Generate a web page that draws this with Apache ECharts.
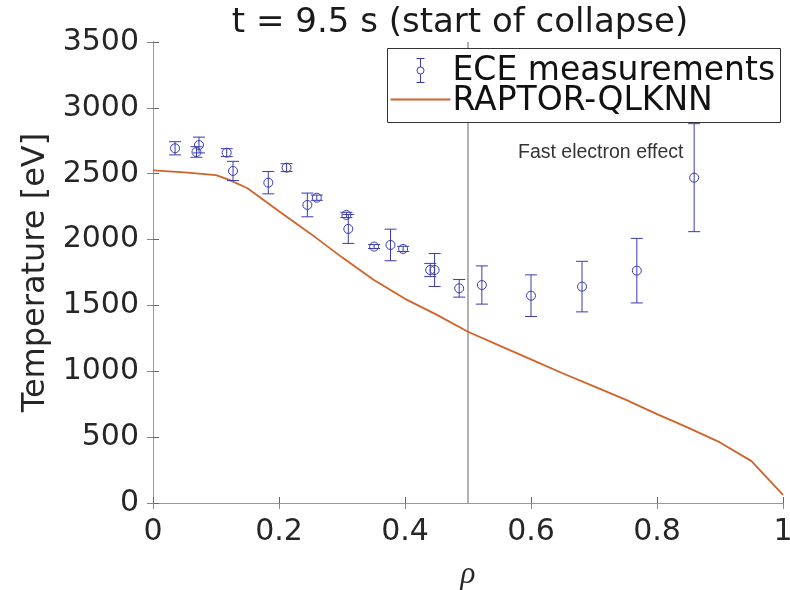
<!DOCTYPE html>
<html>
<head>
<meta charset="utf-8">
<script src="https://cdn.jsdelivr.net/npm/echarts@6/dist/echarts.min.js"></script>
<style>html,body{margin:0;padding:0;background:#fff;}#chart{width:790px;height:590px;}</style>
</head>
<body>
<div id="chart"></div>
<script>
// ECE measurements
var eceRho = [0.035, 0.069, 0.073, 0.117, 0.127, 0.183, 0.212, 0.245, 0.260, 0.307, 0.310, 0.351, 0.377, 0.397, 0.440, 0.447, 0.486, 0.522, 0.600, 0.681, 0.768, 0.859];
var eceT   = [2693, 2665, 2718, 2660, 2521, 2432, 2546, 2263, 2318, 2187, 2081, 1947, 1959, 1929, 1769, 1769, 1630, 1655, 1574, 1643, 1764, 2470];
var eceErr = [50, 40, 60, 30, 73, 85, 30, 90, 20, 20, 110, 15, 120, 20, 50, 125, 67, 145, 158, 192, 245, 410];
// RAPTOR-QLKNN profile
var raptorRho = [0, 0.05, 0.1, 0.12, 0.15, 0.2, 0.25, 0.3, 0.35, 0.4, 0.45, 0.5, 0.55, 0.6, 0.65, 0.7, 0.75, 0.8, 0.85, 0.9, 0.95, 1.0];
var raptorT   = [2525, 2510, 2490, 2455, 2390, 2215, 2045, 1865, 1695, 1550, 1430, 1300, 1195, 1090, 985, 885, 785, 675, 570, 460, 318, 62];
var xTicks = [0, 0.2, 0.4, 0.6, 0.8, 1];
var yTicks = [0, 500, 1000, 1500, 2000, 2500, 3000, 3500];
var markerRho = 0.5;
var markerT = [0, 3500];

var titleText = 't = 9.5 s (start of collapse)';
var legendNames = ['ECE measurements', 'RAPTOR-QLKNN'];
var annotation = 'Fast electron effect';

var ECE_COLOR = '#3a3ab0';
var LINE_COLOR = '#d0622a';
var FONT = 'DejaVu Sans';

var eceData = eceRho.map(function (r, i) { return [r, eceT[i], eceErr[i]]; });
var lineData = raptorRho.map(function (r, i) { return [r, raptorT[i]]; });
var markerData = markerT.map(function (t) { return [markerRho, t]; });

var chart = echarts.init(document.getElementById('chart'), null, {renderer: 'canvas'});

function renderErr(params, api) {
  var x = api.value(0), y = api.value(1), e = api.value(2);
  var c = api.coord([x, y]);
  var top = api.coord([x, y + e]);
  var bot = api.coord([x, y - e]);
  var cap = 6;
  var st = {stroke: ECE_COLOR, lineWidth: 1, fill: null};
  return {
    type: 'group',
    children: [
      {type: 'line', shape: {x1: c[0], y1: top[1], x2: c[0], y2: bot[1]}, style: st},
      {type: 'line', shape: {x1: c[0] - cap, y1: top[1], x2: c[0] + cap, y2: top[1]}, style: st},
      {type: 'line', shape: {x1: c[0] - cap, y1: bot[1], x2: c[0] + cap, y2: bot[1]}, style: st},
      {type: 'circle', shape: {cx: c[0], cy: c[1], r: 4.5}, style: {stroke: ECE_COLOR, lineWidth: 1, fill: 'rgba(255,255,255,0)'}}
    ]
  };
}

var labelStyle = {fontFamily: FONT, fontSize: 30, color: '#262626'};
function plain(v) { return String(+v.toFixed(1)); }

var option = {
  backgroundColor: '#ffffff',
  animation: false,
  title: {
    text: titleText,
    left: 455, top: 1, textAlign: 'center',
    textStyle: {fontFamily: FONT, fontSize: 34, fontWeight: 'normal', color: '#1a1a1a'}
  },
  grid: {left: 153, right: 7, top: 42, bottom: 87, containLabel: false, outerBoundsMode: 'none'},
  xAxis: [
    {
      type: 'value', min: xTicks[0], max: xTicks[xTicks.length - 1], interval: 0.2, position: 'bottom',
      axisLine: {show: true, lineStyle: {color: '#555', width: 1}},
      axisTick: {show: true, inside: true, length: 6, lineStyle: {color: '#666'}},
      axisLabel: Object.assign({margin: 14, formatter: plain}, labelStyle),
      splitLine: {show: false},
      name: 'ρ', nameLocation: 'middle', nameGap: 56,
      nameTextStyle: {fontFamily: 'Liberation Serif', fontStyle: 'italic', fontSize: 31, color: '#262626'}
    },
    {
      type: 'value', min: xTicks[0], max: xTicks[xTicks.length - 1], interval: 0.2, position: 'top',
      axisLine: {show: true, lineStyle: {color: '#999', width: 1}},
      axisTick: {show: true, inside: true, length: 6, lineStyle: {color: '#888'}},
      axisLabel: {show: false}, splitLine: {show: false}
    }
  ],
  yAxis: [
    {
      type: 'value', min: yTicks[0], max: yTicks[yTicks.length - 1], interval: 500, position: 'left',
      axisLine: {show: true, lineStyle: {color: '#555', width: 1}},
      axisTick: {show: true, inside: true, length: 6, lineStyle: {color: '#666'}},
      axisLabel: Object.assign({margin: 14, formatter: plain}, labelStyle),
      splitLine: {show: false},
      name: 'Temperature [eV]', nameLocation: 'middle', nameGap: 94, nameRotate: 90,
      nameTextStyle: {fontFamily: FONT, fontSize: 32, color: '#262626'}
    },
    {
      type: 'value', min: yTicks[0], max: yTicks[yTicks.length - 1], interval: 500, position: 'right',
      axisLine: {show: true, lineStyle: {color: '#999', width: 1}},
      axisTick: {show: true, inside: true, length: 6, lineStyle: {color: '#888'}},
      axisLabel: {show: false}, splitLine: {show: false}
    }
  ],
  series: [
    {
      name: 'marker', type: 'line', data: markerData, xAxisIndex: 0, yAxisIndex: 0,
      showSymbol: false, silent: true,
      lineStyle: {color: '#666', width: 1}, z: 1
    },
    {
      name: legendNames[1], type: 'line', data: lineData, xAxisIndex: 0, yAxisIndex: 0,
      showSymbol: false, smooth: false,
      lineStyle: {color: LINE_COLOR, width: 1.8},
      z: 2
    },
    {
      name: legendNames[0], type: 'custom', data: eceData, xAxisIndex: 0, yAxisIndex: 0,
      renderItem: renderErr, encode: {x: 0, y: 1}, z: 3
    }
  ],
  graphic: [
    {
      type: 'text', left: 518, top: 143, z: 10,
      style: {text: annotation, fontFamily: 'Liberation Sans', fontSize: 19.5, fill: '#333'}
    },
    {
      type: 'group', left: 387, top: 48, z: 100, zlevel: 1,
      children: [
        {type: 'rect', z: 100, zlevel: 1, shape: {x: 0, y: 0, width: 393, height: 74}, style: {fill: '#fff', stroke: '#333', lineWidth: 1}},
        {type: 'line', z: 101, zlevel: 1, shape: {x1: 33, y1: 10, x2: 33, y2: 34}, style: {stroke: ECE_COLOR, lineWidth: 1}},
        {type: 'line', z: 101, zlevel: 1, shape: {x1: 29, y1: 10, x2: 37, y2: 10}, style: {stroke: ECE_COLOR, lineWidth: 1}},
        {type: 'line', z: 101, zlevel: 1, shape: {x1: 29, y1: 34, x2: 37, y2: 34}, style: {stroke: ECE_COLOR, lineWidth: 1}},
        {type: 'circle', z: 102, zlevel: 1, shape: {cx: 33, cy: 22, r: 3.5}, style: {stroke: ECE_COLOR, lineWidth: 1, fill: '#fff'}},
        {type: 'text', z: 101, zlevel: 1, x: 65, y: 23, style: {text: legendNames[0], fontFamily: FONT, fontSize: 33, fill: '#111', verticalAlign: 'middle'}},
        {type: 'line', z: 101, zlevel: 1, shape: {x1: 3, y1: 51, x2: 63, y2: 51}, style: {stroke: LINE_COLOR, lineWidth: 1.8}},
        {type: 'text', z: 101, zlevel: 1, x: 65, y: 53, style: {text: legendNames[1], fontFamily: FONT, fontSize: 33, fill: '#111', verticalAlign: 'middle'}}
      ]
    }
  ]
};
chart.setOption(option);
</script>
</body>
</html>
